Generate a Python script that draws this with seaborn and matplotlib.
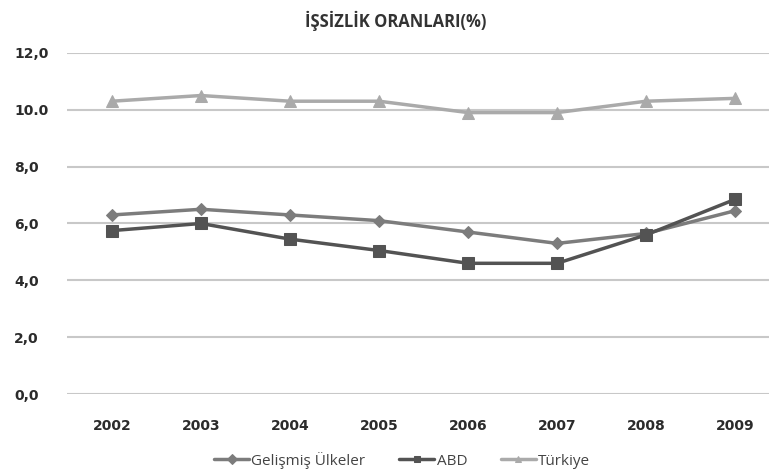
import numpy as np
import pandas as pd
import seaborn as sns
import matplotlib.pyplot as plt

years = ['2002', '2003', '2004', '2005', '2006', '2007', '2008', '2009']
gelismis = [6.3, 6.5, 6.3, 6.1, 5.7, 5.3, 5.65, 6.45]
abd = [5.75, 6.0, 5.45, 5.05, 4.6, 4.6, 5.6, 6.85]
turkiye = [10.3, 10.5, 10.3, 10.3, 9.9, 9.9, 10.3, 10.4]
series_names = ['Gelişmiş Ülkeler', 'ABD', 'Türkiye']
ytick_labels = ['0,0', '2,0', '4,0', '6,0', '8,0', '10.0', '12,0']

df = pd.DataFrame({'yil': years * 3,
                   'oran': gelismis + abd + turkiye,
                   'seri': np.repeat(series_names, len(years))})
df['x'] = df['yil'].map({y: i for i, y in enumerate(years)})

sns.set_style('white')
plt.rcParams['font.family'] = ['Open Sans', 'DejaVu Sans']

fig = plt.figure(figsize=(7.69, 4.72), dpi=100)
ax = fig.add_axes([0.087, 0.165, 0.913, 0.723])

renk = {'Gelişmiş Ülkeler': '#7c7c7c', 'ABD': '#535353', 'Türkiye': '#aaaaaa'}
isaret = {'Gelişmiş Ülkeler': 'D', 'ABD': 's', 'Türkiye': '^'}
boyut = {'Gelişmiş Ülkeler': 6, 'ABD': 9, 'Türkiye': 9}

for s in series_names:
    sns.lineplot(data=df[df['seri'] == s], x='x', y='oran', ax=ax,
                 color=renk[s], marker=isaret[s], markersize=boyut[s],
                 markeredgecolor=renk[s], linewidth=2.5, label=s, zorder=3)

ax.set_xlim(-0.506, 7.38)
ax.set_ylim(0, 12)
ax.set_yticks(np.arange(0, 13, 2))
ax.set_yticklabels(ytick_labels)
ax.set_xticks(range(len(years)))
ax.set_xticklabels(years)
ax.yaxis.grid(True, color='#c8c8c8', linewidth=1.5)
ax.set_axisbelow(True)
for sp in ax.spines.values():
    sp.set_visible(False)
ax.tick_params(axis='both', length=0, colors='#2b2b2b')
ax.tick_params(axis='y', pad=38)
ax.tick_params(axis='x', pad=18)
for t in ax.get_xticklabels() + ax.get_yticklabels():
    t.set_fontweight('bold')
    t.set_fontfamily('DejaVu Sans')
    t.set_fontsize(10)
for t in ax.get_yticklabels():
    t.set_horizontalalignment('left')
ax.set_xlabel('')
ax.set_ylabel('')

fig.text(0.515, 0.955, 'İŞSİZLİK ORANLARI(%)', ha='center', va='center',
         fontsize=12, fontweight='bold', color='#333333')

leg = ax.legend(loc='center', ncol=3, frameon=False, fontsize=11,
                handlelength=2.3, columnspacing=2.2, handletextpad=0.15)
leg.set_bbox_to_anchor((0.523, 0.025), transform=fig.transFigure)
for t in leg.get_texts():
    t.set_color('#444444')
for h in leg.legend_handles:
    h.set_markersize(5)

fig.savefig('out.png', dpi=100)
